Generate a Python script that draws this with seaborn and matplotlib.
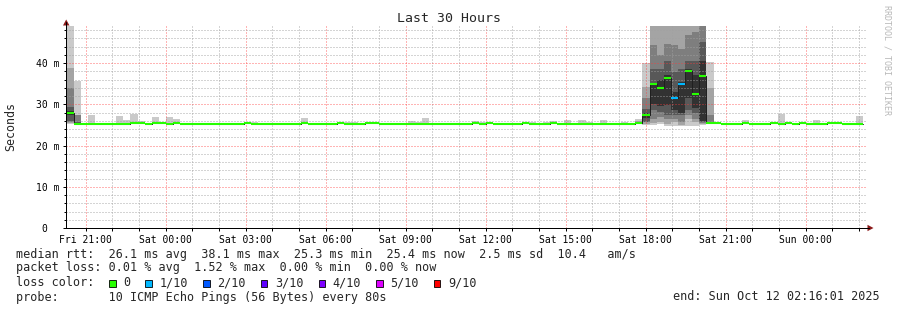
import numpy as np
import pandas as pd
import matplotlib
matplotlib.use("Agg")
import matplotlib.pyplot as plt
import seaborn as sns
from matplotlib.patches import Rectangle, Polygon
from matplotlib.lines import Line2D

# ---------------- data ----------------
window_start = "2025-10-10 20:16:01"
window_end = "2025-10-12 02:16:01"
first_bin_start = "2025-10-10 20:16:55"
bin_minutes = 16

median_ms = [
    27.9, 25.3, 25.3, 25.3, 25.3, 25.3, 25.3, 25.3, 25.3, 25.55,
    25.55, 25.3, 25.55, 25.55, 25.3, 25.55, 25.3, 25.3, 25.3, 25.3,
    25.3, 25.3, 25.3, 25.3, 25.3, 25.55, 25.3, 25.3, 25.3, 25.3,
    25.3, 25.3, 25.3, 25.55, 25.3, 25.3, 25.3, 25.3, 25.55, 25.3,
    25.3, 25.3, 25.55, 25.55, 25.3, 25.3, 25.3, 25.3, 25.3, 25.3,
    25.3, 25.3, 25.3, 25.3, 25.3, 25.3, 25.3, 25.55, 25.3, 25.55,
    25.3, 25.3, 25.3, 25.3, 25.55, 25.3, 25.3, 25.3, 25.55, 25.3,
    25.3, 25.3, 25.3, 25.3, 25.3, 25.3, 25.3, 25.3, 25.3, 25.3,
    25.5, 27.4, 34.9, 33.9, 36.3, 31.4, 34.9, 38.1, 32.5, 36.8,
    25.5, 25.55, 25.3, 25.3, 25.3, 25.55, 25.3, 25.3, 25.3, 25.55,
    25.3, 25.55, 25.3, 25.55, 25.3, 25.3, 25.3, 25.55, 25.55, 25.3,
    25.3, 25.3,
]

ping_max_ms = [
    50.0, 35.6, 25.3, 27.4, 25.3, 25.3, 25.3, 27.2, 26.2, 27.6,
    25.9, 25.3, 26.9, 25.6, 26.9, 26.4, 25.3, 25.3, 25.3, 25.3,
    25.3, 25.3, 25.3, 25.3, 25.3, 25.55, 25.7, 25.3, 25.3, 25.3,
    25.3, 25.3, 25.3, 26.7, 25.3, 25.3, 25.3, 25.3, 25.55, 25.7,
    25.7, 25.3, 25.55, 25.55, 25.3, 25.3, 25.3, 25.3, 25.9, 25.6,
    26.7, 25.3, 25.3, 25.3, 25.3, 25.3, 25.3, 25.9, 25.6, 25.55,
    25.3, 25.3, 25.3, 25.3, 25.55, 25.7, 25.3, 25.7, 25.9, 25.3,
    26.2, 25.3, 26.2, 25.6, 25.3, 26.2, 25.3, 25.3, 25.7, 25.3,
    26.5, 40.1, 60.0, 60.0, 60.0, 60.0, 60.0, 60.0, 60.0, 60.0,
    40.2, 25.55, 25.3, 25.3, 25.3, 26.2, 25.3, 25.3, 25.3, 25.55,
    27.6, 25.55, 25.3, 25.55, 25.3, 26.2, 25.3, 25.55, 25.55, 25.3,
    25.3, 27.2,
]

loss_tenths = [
    0, 0, 0, 0, 0, 0, 0, 0, 0, 0,
    0, 0, 0, 0, 0, 0, 0, 0, 0, 0,
    0, 0, 0, 0, 0, 0, 0, 0, 0, 0,
    0, 0, 0, 0, 0, 0, 0, 0, 0, 0,
    0, 0, 0, 0, 0, 0, 0, 0, 0, 0,
    0, 0, 0, 0, 0, 0, 0, 0, 0, 0,
    0, 0, 0, 0, 0, 0, 0, 0, 0, 0,
    0, 0, 0, 0, 0, 0, 0, 0, 0, 0,
    0, 0, 0, 0, 0, 1, 1, 0, 0, 0,
    0, 0, 0, 0, 0, 0, 0, 0, 0, 0,
    0, 0, 0, 0, 0, 0, 0, 0, 0, 0,
    0, 0,
]

# sorted individual pings (ms) for bins with visible smoke structure
detail_bins = [0, 1, 80, 81, 82, 83, 84, 85, 86, 87, 88, 89, 90]
detail_pings = [
    [25.3, 25.5, 25.8, 26.0, 27.3, 28.4, 29.3, 33.9, 38.7, 50.0],
    [25.2, 25.3, 25.4, 25.4, 25.4, 25.5, 25.6, 27.3, 27.5, 35.6],
    [25.2, 25.3, 25.4, 25.4, 25.5, 25.5, 25.6, 25.7, 25.9, 26.5],
    [25.0, 25.3, 25.6, 25.8, 26.6, 28.0, 28.8, 31.4, 34.2, 40.1],
    [25.0, 25.5, 26.5, 28.5, 30.1, 35.1, 38.6, 44.3, 52.0, 60.0],
    [25.1, 25.7, 26.9, 28.1, 29.5, 36.0, 38.6, 41.9, 50.0, 60.0],
    [24.8, 25.3, 26.5, 27.5, 29.7, 37.0, 40.6, 44.7, 52.0, 60.0],
    [24.7, 25.7, 26.5, 27.3, 28.5, 33.0, 37.8, 44.3, 55.0, 60.0],
    [24.7, 25.0, 25.7, 27.3, 28.0, 35.5, 38.6, 43.5, 50.0, 60.0],
    [24.8, 26.5, 27.5, 28.5, 31.4, 38.6, 40.6, 46.7, 52.0, 60.0],
    [24.8, 25.7, 26.5, 28.0, 29.0, 37.0, 40.6, 47.5, 53.0, 60.0],
    [25.0, 25.3, 25.5, 25.7, 26.0, 40.6, 45.1, 50.0, 55.0, 60.0],
    [25.2, 25.3, 25.3, 25.4, 25.4, 25.5, 25.8, 27.5, 34.0, 40.2],
]

y_ticks_ms = [0, 10, 20, 30, 40]
y_tick_labels = ["0  ", "10 m", "20 m", "30 m", "40 m"]
x_tick_times = ["2025-10-10 21:00", "2025-10-11 00:00", "2025-10-11 03:00",
                "2025-10-11 06:00", "2025-10-11 09:00", "2025-10-11 12:00",
                "2025-10-11 15:00", "2025-10-11 18:00", "2025-10-11 21:00",
                "2025-10-12 00:00"]
x_tick_labels = ["Fri 21:00", "Sat 00:00", "Sat 03:00", "Sat 06:00", "Sat 09:00",
                 "Sat 12:00", "Sat 15:00", "Sat 18:00", "Sat 21:00", "Sun 00:00"]
loss_legend_labels = ["0", "1/10", "2/10", "3/10", "4/10", "5/10", "9/10"]
loss_legend_colors = ["#26ff00", "#00b8ff", "#0059ff", "#5e00ff", "#7e00ff", "#dd00ff", "#ff0000"]
smoke_grays = ["#cacaca", "#a4a4a4", "#7e7e7e", "#585858", "#323232"]

# ---------------- setup ----------------
sns.set_theme(style="white")
plt.rcParams["font.family"] = ["DejaVu Sans Mono", "DejaVu Sans"]
plt.rcParams["lines.scale_dashes"] = False

W, H = 897, 310
fig = plt.figure(figsize=(W / 100, H / 100), dpi=100)
fig.patch.set_facecolor("white")


def fx(x):
    return x / W


def fy(y):
    return 1 - y / H


ax = fig.add_axes([fx(66), fy(228), 800 / W, 202 / H])
ax.set_facecolor("white")

t0 = pd.Timestamp(window_start)
t_end = pd.Timestamp(window_end)
span_h = (t_end - t0).total_seconds() / 3600
n_bins = len(median_ms)
edge_times = pd.date_range(pd.Timestamp(first_bin_start), periods=n_bins + 1,
                           freq=f"{bin_minutes}min")
edges = np.array([(t - t0).total_seconds() / 3600 for t in edge_times])

median = np.array(median_ms)
pings = np.repeat(median[:, None], 10, axis=1)
pings[:, 9] = np.array(ping_max_ms)
for b, p in zip(detail_bins, detail_pings):
    pings[b] = np.array(p)


def ext(a):
    return np.append(a, a[-1])


for i in range(5):
    lo = pings[:, i]
    hi = pings[:, 9 - i]
    ax.fill_between(edges, ext(lo), ext(hi), step="post", color=smoke_grays[i],
                    lw=0, zorder=2, antialiased=False)

sns.lineplot(x=edges, y=ext(median), drawstyle="steps-post", color="#202020",
             lw=0.72, ax=ax, zorder=3, sort=False, estimator=None)
seg_colors = [loss_legend_colors[min(l, 6)] for l in loss_tenths]
ax.hlines(median, edges[:-1], edges[1:], colors=seg_colors, lw=1.5, zorder=4)

ax.set_xlim(0, span_h)
ax.set_ylim(0, 48.97)

xt = [(pd.Timestamp(t) - t0).total_seconds() / 3600 for t in x_tick_times]
ax.set_xticks(xt)
ax.set_xticklabels(x_tick_labels)
first_hour = (pd.Timestamp("2025-10-10 21:00") - t0).total_seconds() / 3600
ax.set_xticks(np.arange(first_hour, span_h, 1.0), minor=True)
ax.set_yticks(y_ticks_ms)
ax.set_yticklabels(y_tick_labels)
ax.set_yticks(np.arange(0, 49, 2), minor=True)

ax.tick_params(axis="both", which="both", direction="out", color="black",
               width=0.72, labelsize=7, labelcolor="black")
ax.tick_params(axis="x", which="both", length=2.2, pad=2.5)
ax.tick_params(axis="y", which="major", length=2.2, pad=2.2)
ax.tick_params(axis="y", which="minor", length=1.4)
ax.tick_params(bottom=True, left=True, which="both")

ax.grid(False)
ax.grid(True, which="minor", color="#a0a0a0", alpha=0.45, lw=0.72,
        linestyle=(0, (1.44, 1.44)), zorder=5, antialiased=False)
ax.grid(True, which="major", color="#ff3a3a", alpha=0.38, lw=0.72,
        linestyle=(0, (1.44, 1.44)), zorder=5, antialiased=False)
ax.set_axisbelow(False)

for s in ["top", "right"]:
    ax.spines[s].set_visible(False)
for s in ["left", "bottom"]:
    ax.spines[s].set_color("black")
    ax.spines[s].set_linewidth(0.72)
    ax.spines[s].set_zorder(6)

# axis arrows
arrow_col = "#8b1a1a"
fig.add_artist(Line2D([fx(66), fx(66)], [fy(26), fy(22)], color="black", lw=0.72))
fig.add_artist(Line2D([fx(866), fx(869)], [fy(228), fy(228)], color="black", lw=0.72))
fig.add_artist(Polygon([(fx(63), fy(25.5)), (fx(69.5), fy(25.5)), (fx(66.2), fy(19.5))],
                       closed=True, color=arrow_col, lw=0))
fig.add_artist(Polygon([(fx(867.5), fy(224.8)), (fx(867.5), fy(231.2)), (fx(873.5), fy(228))],
                       closed=True, color=arrow_col, lw=0))

# titles
fig.text(fx(448.5), fy(19), "Last 30 Hours", ha="center", va="center", fontsize=9.5)
fig.text(fx(11), fy(126.5), "Seconds", rotation=90, ha="center", va="center", fontsize=8.4)
fig.text(fx(887), fy(60), "RRDTOOL / TOBI OETIKER", rotation=270, ha="center",
         va="center", fontsize=6, color="#b8b8b8")

# legend / stats
lf = 8.5
fig.text(fx(16), fy(254.5),
         "median rtt:  26.1 ms avg  38.1 ms max  25.3 ms min  25.4 ms now  2.5 ms sd  10.4   am/s",
         ha="left", va="center", fontsize=lf)
fig.text(fx(16), fy(268),
         "packet loss: 0.01 % avg  1.52 % max  0.00 % min  0.00 % now",
         ha="left", va="center", fontsize=lf)
fig.text(fx(16), fy(282.5), "loss color:", ha="left", va="center", fontsize=lf)
bx = 109.0
for lab, col in zip(loss_legend_labels, loss_legend_colors):
    fig.add_artist(Rectangle((fx(bx), fy(286.5)), 6.5 / W, 6.5 / H, facecolor=col,
                             edgecolor="black", lw=0.6))
    lx = bx + 14.3
    fig.text(fx(lx), fy(282.5), lab, ha="left", va="center", fontsize=lf)
    bx = lx + len(lab) * 7.1 + 15.0
fig.text(fx(16), fy(297), "probe:       10 ICMP Echo Pings (56 Bytes) every 80s",
         ha="left", va="center", fontsize=lf)
fig.text(fx(880), fy(297), "end: Sun Oct 12 02:16:01 2025", ha="right", va="center",
         fontsize=lf)

fig.savefig("out.png", dpi=100, facecolor="white")
